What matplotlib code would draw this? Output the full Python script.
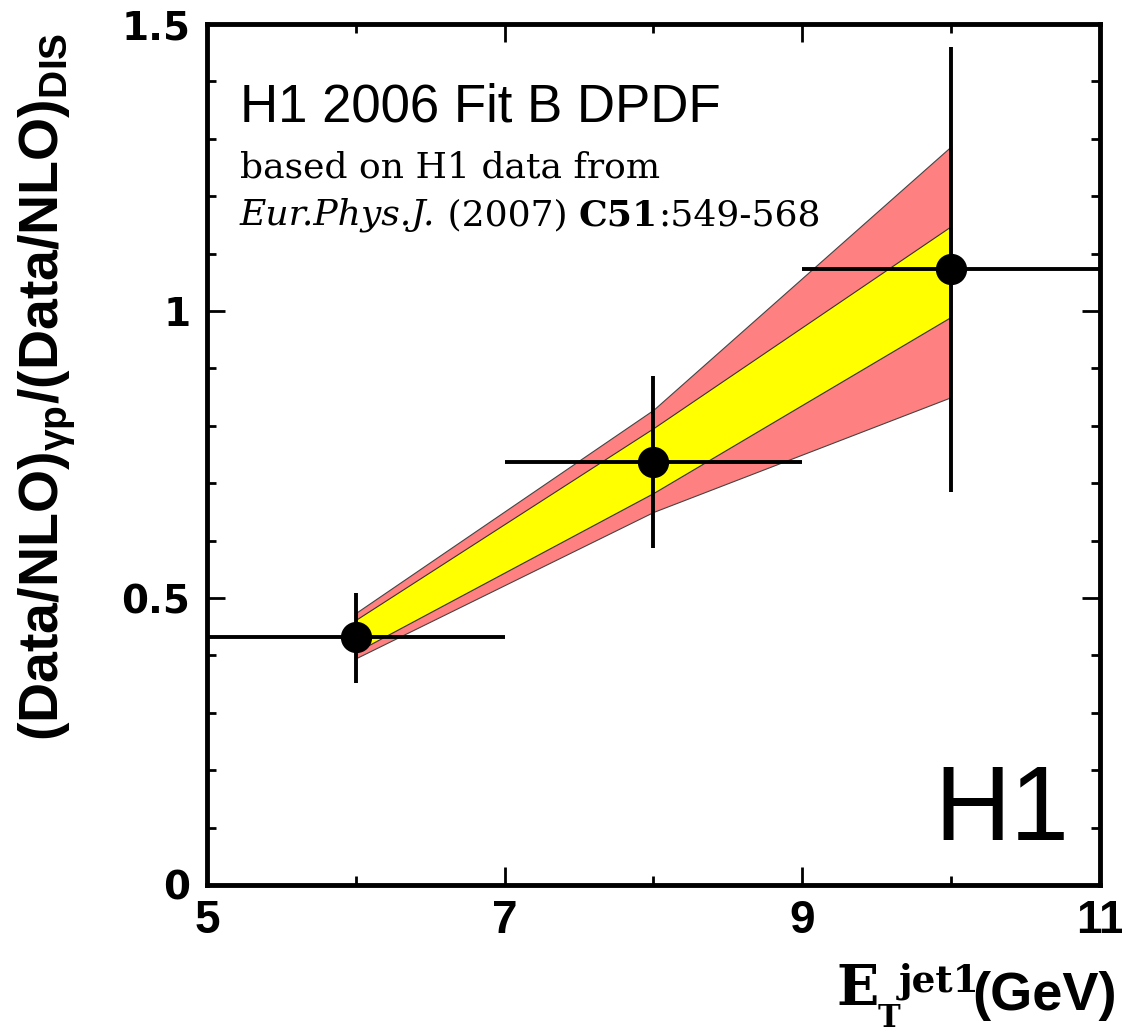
import matplotlib
matplotlib.use("Agg")
import matplotlib.pyplot as plt
from matplotlib.ticker import MultipleLocator

# data points (E_T jet1 bins)
x_pts = [6, 8, 10]
y_pts = [0.432, 0.737, 1.073]
y_up = [0.509, 0.887, 1.460]
y_dn = [0.352, 0.587, 0.685]
x_lo = [5, 7, 9]
x_hi = [7, 9, 11]

# uncertainty bands
band_x = [6, 8, 10]
red_hi = [0.474, 0.828, 1.287]
red_lo = [0.395, 0.650, 0.850]
yel_hi = [0.462, 0.796, 1.148]
yel_lo = [0.406, 0.683, 0.990]

sans = ['Liberation Sans', 'DejaVu Sans']
serif = 'DejaVu Serif'
W, H = 1122, 1033

fig = plt.figure(figsize=(W / 100, H / 100), dpi=100)
ax = fig.add_axes([207/W, 148/H, 893/W, 861/H])

ax.fill_between(band_x, red_lo, red_hi, facecolor='#ff8080', edgecolor='#444444', linewidth=0.8, zorder=1)
ax.fill_between(band_x, yel_lo, yel_hi, facecolor='#ffff00', edgecolor='#333333', linewidth=0.8, zorder=2)

xerr = [[x - l for x, l in zip(x_pts, x_lo)], [h - x for x, h in zip(x_pts, x_hi)]]
yerr = [[y - d for y, d in zip(y_pts, y_dn)], [u - y for y, u in zip(y_pts, y_up)]]
ax.errorbar(x_pts, y_pts, xerr=xerr, yerr=yerr, fmt='o', color='black', ms=21.5,
            elinewidth=2.8, capsize=0, zorder=5)

ax.set_xlim(5, 11)
ax.set_ylim(0, 1.5)
ax.xaxis.set_minor_locator(MultipleLocator(1))
ax.yaxis.set_minor_locator(MultipleLocator(0.1))
ax.tick_params(which='both', direction='in', top=True, right=True, width=2)
ax.tick_params(which='major', length=13)
ax.tick_params(which='minor', length=6.5)
ax.tick_params(axis='x', pad=10)
ax.tick_params(axis='y', pad=12)
for s in ax.spines.values():
    s.set_linewidth(3.5)

ax.set_xticks([5, 7, 9, 11])
ax.set_xticklabels(['5', '7', '9', '11'], fontsize=33, fontweight='bold', family=sans)
ax.set_yticks([0, 0.5, 1, 1.5])
ax.set_yticklabels(['0', '0.5', '1', '1.5'], fontsize=28, fontweight='bold', family='DejaVu Sans')

ax.text(240/W, 1 - 122/H, 'H1 2006 Fit B DPDF', transform=fig.transFigure, va='baseline',
        fontsize=38, family=sans)
ax.text(240/W, 1 - 178/H, 'based on H1 data from', transform=fig.transFigure, va='baseline',
        fontsize=26, family=serif)

# citation line built from pieces so the italic/bold parts sit side by side
renderer = fig.canvas.get_renderer()
cx = 240
pieces = [('Eur.Phys.J.', 'italic', 'normal'), (' (2007) ', 'normal', 'normal'),
          ('C51', 'normal', 'bold'), (':549-568', 'normal', 'normal')]
for txt, style, weight in pieces:
    t = fig.text(cx / W, 1 - 225/H, txt, va='baseline', fontsize=26, family=serif,
                 fontstyle=style, fontweight=weight)
    cx = t.get_window_extent(renderer).x1

ax.text(0.966, 0.052, 'H1', transform=ax.transAxes, ha='right', va='baseline', fontsize=76, family=sans)

fig.text(16/W, 1 - 387/H, r'(Data/NLO)$_{\mathregular{\gamma p}}$/(Data/NLO)$_{\mathregular{DIS}}$',
         rotation=90, ha='left', va='center', fontsize=40, fontweight='bold', family=sans)

# x axis title: E_T^jet1 (GeV)
fig.text(836/W, 1 - 1005/H, 'E', va='baseline', fontsize=40, fontweight='bold', family=serif)
fig.text(878/W, 1 - 1027/H, 'T', va='baseline', fontsize=22, fontweight='bold', family=serif)
fig.text(899/W, 1 - 992/H, 'jet1', va='baseline', fontsize=27, fontweight='bold', family=serif)
fig.text(1117/W, 1 - 1010/H, '(GeV)', ha='right', va='baseline', fontsize=39, fontweight='bold', family=sans)

fig.savefig('out.png', dpi=100)
